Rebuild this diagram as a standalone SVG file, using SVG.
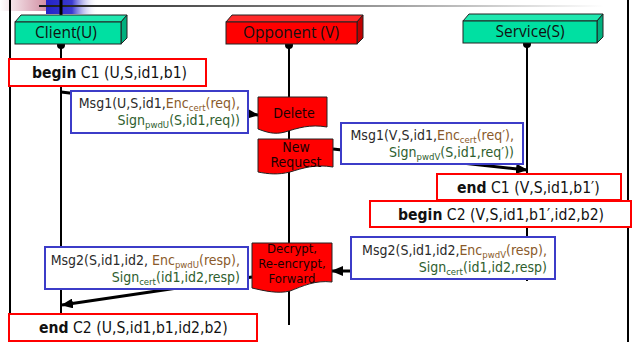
<svg xmlns="http://www.w3.org/2000/svg" width="632" height="342" viewBox="0 0 632 342">
  <defs>
    <linearGradient id="ruleFade" x1="0" x2="1" y1="0" y2="0">
      <stop offset="0" stop-color="#1a1a1a"/>
      <stop offset="0.6" stop-color="#9a9a9a"/>
      <stop offset="1" stop-color="#ffffff"/>
    </linearGradient>
    <linearGradient id="blueFade" x1="0" x2="1" y1="0" y2="0">
      <stop offset="0" stop-color="#2323c8"/>
      <stop offset="0.5" stop-color="#3a3ad0"/>
      <stop offset="1" stop-color="#ffffff" stop-opacity="0"/>
    </linearGradient>
    <linearGradient id="pinkFade" x1="0" x2="1" y1="0" y2="0">
      <stop offset="0" stop-color="#ffffff"/>
      <stop offset="1" stop-color="#c87890"/>
    </linearGradient>
    <marker id="head" markerUnits="userSpaceOnUse" markerWidth="12" markerHeight="10" refX="11" refY="5" orient="auto">
      <path d="M0,0 L12,5 L0,10 Z" fill="#000"/>
    </marker>
  </defs>
  <style>
    .lbl { font-family: "DejaVu Sans Condensed", "DejaVu Sans", sans-serif; font-size: 15.6px; fill: #111; }
    .msg { font-family: "DejaVu Sans Condensed", "DejaVu Sans", sans-serif; font-size: 14px; fill: #2a2a2a; }
    .act { font-family: "DejaVu Sans Condensed", "DejaVu Sans", sans-serif; font-size: 14px; fill: #1a0000; text-anchor: middle; }
    .act.small { font-size: 13px; }
    .title { font-family: "Open Sans", "Liberation Sans", sans-serif; font-size: 15.5px; fill: #111; text-anchor: middle; }
    .enc { fill: #8a5a2a; }
    .sign { fill: #2e5e2e; }
    .sub { font-size: 9.5px; }
    .event { fill: #fff; stroke: #ff0000; stroke-width: 2; }
    .message { fill: #fff; stroke: #3c3cc8; stroke-width: 2; }
    .action { fill: #ff0000; stroke: #222; stroke-width: 1; }
    .life { stroke: #000; stroke-width: 2; fill: none; }
    .flow { stroke: #000; stroke-width: 3; fill: none; marker-end: url(#head); }
    .green-front { fill: #00e0a2; stroke: #222; stroke-width: 1; }
    .green-top { fill: #20e8b0; stroke: #222; stroke-width: 1; }
    .green-side { fill: #00b07e; stroke: #222; stroke-width: 1; }
    .red-front { fill: #ff0000; stroke: #222; stroke-width: 1; }
    .red-top { fill: #ff2a2a; stroke: #222; stroke-width: 1; }
    .red-side { fill: #c00000; stroke: #222; stroke-width: 1; }
  </style>

  <!-- page frame and header ornament -->
  <g id="frame">
    <rect x="0" y="0" width="56" height="11" fill="url(#pinkFade)"/>
    <rect x="46" y="0" width="52" height="14" fill="url(#blueFade)"/>
    <rect x="39" y="5" width="565" height="2" fill="url(#ruleFade)"/>
    <line x1="61" y1="0" x2="61" y2="15" stroke="#000" stroke-width="3"/>
    <line x1="10" y1="0" x2="10" y2="342" stroke="#000" stroke-width="2"/>
    <line x1="628" y1="0" x2="628" y2="342" stroke="#000" stroke-width="2"/>
  </g>

  <!-- lifelines and message flows -->
  <g id="connectors">
    <line class="life" x1="61" y1="45" x2="61" y2="314"/>
    <line class="life" x1="289" y1="45" x2="289" y2="325"/>
    <line class="life" x1="527" y1="45" x2="527" y2="281"/>
    <circle cx="61" cy="45" r="4" fill="#000"/>
    <circle cx="289" cy="45" r="4" fill="#000"/>
    <circle cx="527" cy="44" r="4" fill="#000"/>
    <line class="flow" x1="61" y1="92" x2="258" y2="115"/>
    <line class="flow" x1="333" y1="149" x2="527" y2="170"/>
    <line class="flow" x1="527" y1="271" x2="332" y2="271"/>
    <line class="flow" x1="252" y1="277" x2="62" y2="305"/>
  </g>

  <!-- participants -->
  <g id="client">
    <path class="green-top" d="M15,22 L21,15 L127,15 L121,22 Z"/>
    <path class="green-side" d="M121,22 L127,15 L127,38 L121,44 Z"/>
    <rect class="green-front" x="15" y="22" width="106" height="22"/>
    <text class="title" x="66" y="38">Client(U)</text>
  </g>
  <g id="opponent">
    <path class="red-top" d="M226,22 L232,15 L363,15 L357,22 Z"/>
    <path class="red-side" d="M357,22 L363,15 L363,38 L357,44 Z"/>
    <rect class="red-front" x="226" y="22" width="131" height="22"/>
    <text class="title" x="291" y="38">Opponent (V)</text>
  </g>
  <g id="service">
    <path class="green-top" d="M463,21 L469,14 L603,14 L597,21 Z"/>
    <path class="green-side" d="M597,21 L603,14 L603,37 L597,43 Z"/>
    <rect class="green-front" x="463" y="21" width="134" height="22"/>
    <text class="title" x="530" y="37">Service(S)</text>
  </g>

  <!-- session events -->
  <g id="begin-c1">
    <rect class="event" x="9" y="59" width="197" height="27"/>
    <text class="lbl" x="32" y="78"><tspan font-weight="bold">begin</tspan> C1 (U,S,id1,b1)</text>
  </g>
  <g id="end-c1">
    <rect class="event" x="437" y="174" width="184" height="26"/>
    <text class="lbl" x="457" y="193"><tspan font-weight="bold">end</tspan> C1 (V,S,id1,b1′)</text>
  </g>
  <g id="begin-c2">
    <rect class="event" x="370" y="201" width="261" height="26"/>
    <text class="lbl" x="398" y="220"><tspan font-weight="bold">begin</tspan> C2 (V,S,id1,b1′,id2,b2)</text>
  </g>
  <g id="end-c2">
    <rect class="event" x="9" y="314" width="248" height="27"/>
    <text class="lbl" x="39" y="333"><tspan font-weight="bold">end</tspan> C2 (U,S,id1,b1,id2,b2)</text>
  </g>

  <!-- messages -->
  <g id="msg1-u">
    <rect class="message" x="71" y="91" width="177" height="42"/>
    <text class="msg" x="240" y="108" text-anchor="end">Msg1(U,S,id1,<tspan class="enc">Enc<tspan class="sub" dy="3">cert</tspan><tspan dy="-3">(req),</tspan></tspan></text>
    <text class="msg sign" x="240" y="125" text-anchor="end">Sign<tspan class="sub" dy="3">pwdU</tspan><tspan dy="-3">(S,id1,req))</tspan></text>
  </g>
  <g id="msg1-v">
    <rect class="message" x="341" y="123" width="182" height="41"/>
    <text class="msg" x="514" y="140" text-anchor="end">Msg1(V,S,id1,<tspan class="enc">Enc<tspan class="sub" dy="3">cert</tspan><tspan dy="-3">(req′),</tspan></tspan></text>
    <text class="msg sign" x="514" y="157" text-anchor="end">Sign<tspan class="sub" dy="3">pwdV</tspan><tspan dy="-3">(S,id1,req′))</tspan></text>
  </g>
  <g id="msg2-v">
    <rect class="message" x="351" y="237" width="204" height="42"/>
    <text class="msg" x="547" y="255" text-anchor="end">Msg2(S,id1,id2,<tspan class="enc">Enc<tspan class="sub" dy="3">pwdV</tspan><tspan dy="-3">(resp),</tspan></tspan></text>
    <text class="msg sign" x="547" y="272" text-anchor="end">Sign<tspan class="sub" dy="3">cert</tspan><tspan dy="-3">(id1,id2,resp)</tspan></text>
  </g>
  <g id="msg2-u">
    <rect class="message" x="45" y="247" width="203" height="42"/>
    <text class="msg" x="240" y="265" text-anchor="end">Msg2(S,id1,id2, <tspan class="enc">Enc<tspan class="sub" dy="3">pwdU</tspan><tspan dy="-3">(resp),</tspan></tspan></text>
    <text class="msg sign" x="240" y="282" text-anchor="end">Sign<tspan class="sub" dy="3">cert</tspan><tspan dy="-3">(id1,id2,resp)</tspan></text>
  </g>

  <!-- opponent actions -->
  <g id="delete">
    <path class="action" d="M258,97 H327 V127 C310,124 298,128 285,132 C274,135 266,132 258,129 Z"/>
    <text class="act" x="294" y="118">Delete</text>
  </g>
  <g id="new-request">
    <path class="action" d="M258,139 H333 V167 C315,164 303,168 290,172 C278,175 268,174 258,172 Z"/>
    <text class="act" x="296" y="152">New</text>
    <text class="act" x="296" y="167">Request</text>
  </g>
  <g id="decrypt">
    <path class="action" d="M252,243 H332 V282 C315,280 303,286 290,291 C278,294 265,291 252,288 Z"/>
    <text class="act small" x="292" y="253">Decrypt,</text>
    <text class="act small" x="292" y="268">Re-encrypt,</text>
    <text class="act small" x="292" y="283">Forward</text>
  </g>
</svg>
